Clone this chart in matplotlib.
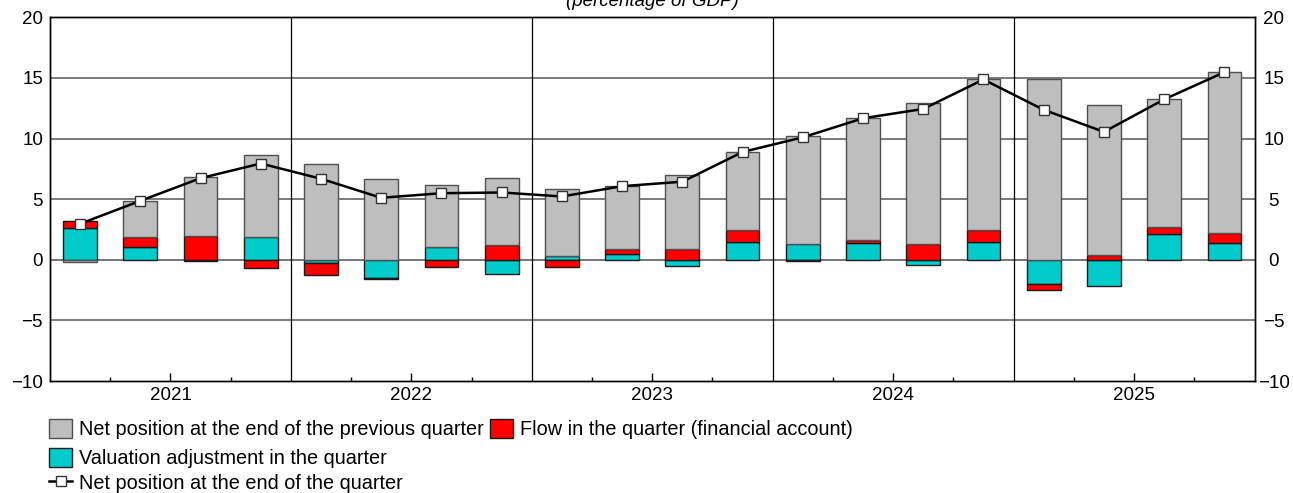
import numpy as np
import matplotlib.pyplot as plt

plt.rcParams['font.family'] = ['Liberation Sans', 'DejaVu Sans']

years = ['2021', '2022', '2023', '2024', '2025']

# components of the change in the net position, one value per quarter (2021Q1 .. 2025Q4)
prev_position = [-0.20, 3.00, 4.86, 6.79, 7.94, 6.70, 5.13, 5.49, 5.55, 5.22,
                 6.08, 6.44, 8.89, 10.08, 11.65, 12.45, 14.90, 12.37, 10.59, 13.27]
flow = [0.60, 0.83, 1.95, -0.69, -0.99, -0.05, -0.63, 1.24, -0.60, 0.40,
        0.88, 0.99, -0.08, 0.24, 1.27, 0.99, -0.49, 0.38, 0.55, 0.82]
valuation = [2.60, 1.04, -0.08, 1.84, -0.27, -1.54, 1.02, -1.18, 0.27, 0.45,
             -0.50, 1.46, 1.29, 1.38, -0.47, 1.46, -1.98, -2.17, 2.12, 1.38]
net_position = [2.97, 4.86, 6.73, 7.94, 6.68, 5.11, 5.49, 5.55, 5.22, 6.07,
                6.44, 8.89, 10.10, 11.67, 12.44, 14.87, 12.37, 10.55, 13.23, 15.47]

W, H = 1293, 493
fig = plt.figure(figsize=(W / 100, H / 100), dpi=100)
ax = fig.add_axes([50 / W, 1 - 381 / H, (1254.5 - 50) / W, (381 - 17.3) / H])

n = len(net_position)
x = np.arange(n) + 0.5

series = [
    (valuation, '#00CCCC', '#1a1a1a', 'Valuation adjustment in the quarter'),
    (flow, '#FF0000', '#1a1a1a', 'Flow in the quarter (financial account)'),
    (prev_position, '#BEBEBE', '#505050', 'Net position at the end of the previous quarter'),
]
pos_base = np.zeros(n)
neg_base = np.zeros(n)
handles = {}
for vals, color, edge, label in series:
    vals = np.array(vals)
    bottom = np.where(vals >= 0, pos_base, neg_base)
    h = ax.bar(x, vals, 0.56, bottom=bottom, color=color, edgecolor=edge,
               linewidth=1.0, zorder=2, label=label)
    handles[label] = h
    pos_base += np.clip(vals, 0, None)
    neg_base += np.clip(vals, None, 0)

line, = ax.plot(x, net_position, color='black', lw=1.8, marker='s', ms=7.5,
                mfc='white', mec='#333333', mew=1.0, zorder=4,
                label='Net position at the end of the quarter')

for v in [-5, 5, 10, 15]:
    ax.axhline(v, color='#707070', lw=1.3, zorder=1)
ax.axhline(0, color='#505050', lw=1.1, zorder=1)
for k in range(1, 5):
    ax.axvline(4 * k, color='black', lw=0.9, zorder=1)

ax.set_xlim(0, n)
ax.set_ylim(-10, 20)
ax.set_xticks([4 * i + 2 for i in range(len(years))], years)
ax.set_xticks([q for q in range(1, n) if q % 2 == 1], minor=True)
ax.tick_params(axis='x', which='major', direction='in', length=6, width=1, pad=4, labelsize=13.5)
ax.tick_params(axis='x', which='minor', direction='in', length=3, width=1)
ax.set_yticks(range(-10, 21, 5))
ax.tick_params(axis='y', length=0, pad=5, labelsize=13.5)

ax2 = ax.twinx()
ax2.set_ylim(-10, 20)
ax2.set_yticks(range(-10, 21, 5))
ax2.tick_params(axis='y', length=0, pad=14, labelsize=13.5)
for lab in ax2.get_yticklabels():
    lab.set_horizontalalignment('center')

for a in (ax, ax2):
    for s in a.spines.values():
        s.set_linewidth(1.0)
        s.set_color('black')

fig.text(652 / W, 1 - 5.5 / H, '(percentage of GDP)', ha='center', va='baseline',
         style='italic', fontsize=13.5)

leg_kw = dict(loc='center left', frameon=False, fontsize=14.3, handlelength=1.16,
              handleheight=1.11, handletextpad=0.35, columnspacing=0.30,
              borderpad=0, borderaxespad=0)
fig.legend(handles=[handles[series[2][3]], handles[series[1][3]]],
           bbox_to_anchor=(49 / W, 1 - 429 / H), ncol=2, **leg_kw)
fig.legend(handles=[handles[series[0][3]]], bbox_to_anchor=(49 / W, 1 - 458 / H), **leg_kw)
fig.legend(handles=[line], bbox_to_anchor=(49 / W, 1 - 483 / H), **leg_kw)

fig.savefig('out.png', dpi=100)
